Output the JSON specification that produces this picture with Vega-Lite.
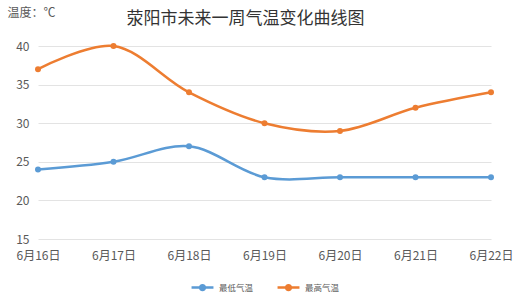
{
  "$schema": "https://vega.github.io/schema/vega-lite/v6.json",
  "width": 453,
  "height": 193,
  "autosize": {"type": "none"},
  "padding": {"left": 38, "top": 46, "right": 29, "bottom": 54},
  "background": "white",
  "config": {
    "font": "Noto Sans CJK SC",
    "view": {"stroke": null}
  },
  "title": {
    "text": "荥阳市未来一周气温变化曲线图",
    "fontSize": 17,
    "fontWeight": "normal",
    "color": "#333333",
    "anchor": "middle",
    "dx": -19,
    "offset": -22
  },
  "data": {
    "values": [
      {"date": "6月16日", "series": "最低气温", "temp": 24},
      {"date": "6月17日", "series": "最低气温", "temp": 25},
      {"date": "6月18日", "series": "最低气温", "temp": 27},
      {"date": "6月19日", "series": "最低气温", "temp": 23},
      {"date": "6月20日", "series": "最低气温", "temp": 23},
      {"date": "6月21日", "series": "最低气温", "temp": 23},
      {"date": "6月22日", "series": "最低气温", "temp": 23},
      {"date": "6月16日", "series": "最高气温", "temp": 37},
      {"date": "6月17日", "series": "最高气温", "temp": 40},
      {"date": "6月18日", "series": "最高气温", "temp": 34},
      {"date": "6月19日", "series": "最高气温", "temp": 30},
      {"date": "6月20日", "series": "最高气温", "temp": 29},
      {"date": "6月21日", "series": "最高气温", "temp": 32},
      {"date": "6月22日", "series": "最高气温", "temp": 34}
    ]
  },
  "mark": {
    "type": "line",
    "interpolate": "catmull-rom",
    "strokeWidth": 2.5,
    "point": {"filled": true, "size": 36}
  },
  "encoding": {
    "x": {
      "field": "date",
      "type": "ordinal",
      "scale": {"type": "point", "padding": 0},
      "axis": {
        "title": null,
        "labelAngle": 0,
        "labelFontSize": 12,
        "labelColor": "#595959",
        "labelPadding": 11,
        "domain": false,
        "ticks": false,
        "grid": false
      }
    },
    "y": {
      "field": "temp",
      "type": "quantitative",
      "scale": {"domain": [15, 40], "nice": false, "zero": false},
      "axis": {
        "values": [15, 20, 25, 30, 35, 40],
        "title": "温度：℃",
        "titleAngle": 0,
        "titleAlign": "left",
        "titleBaseline": "middle",
        "titleX": -31,
        "titleY": -34,
        "titleFontSize": 12,
        "titleFontWeight": "normal",
        "titleColor": "#595959",
        "labelFontSize": 12,
        "labelColor": "#595959",
        "labelPadding": 9,
        "domain": false,
        "ticks": false,
        "gridColor": "#e3e3e3",
        "gridWidth": 1
      }
    },
    "color": {
      "field": "series",
      "type": "nominal",
      "scale": {"domain": ["最低气温", "最高气温"], "range": ["#5B9BD5", "#ED7D31"]},
      "legend": {
        "title": null,
        "orient": "none",
        "direction": "horizontal",
        "legendX": 152,
        "legendY": 229,
        "labelFontSize": 8.5,
        "labelColor": "#595959",
        "symbolType": "M-1,0H1M0.22,0A0.22,0.22 0 1 1 -0.22,0A0.22,0.22 0 1 1 0.22,0Z",
        "symbolSize": 480,
        "symbolStrokeWidth": 2.5,
        "columnPadding": 18,
        "encode": {
          "symbols": {
            "update": {
              "fill": {"scale": "color", "field": "value"}
            }
          }
        }
      }
    }
  }
}
